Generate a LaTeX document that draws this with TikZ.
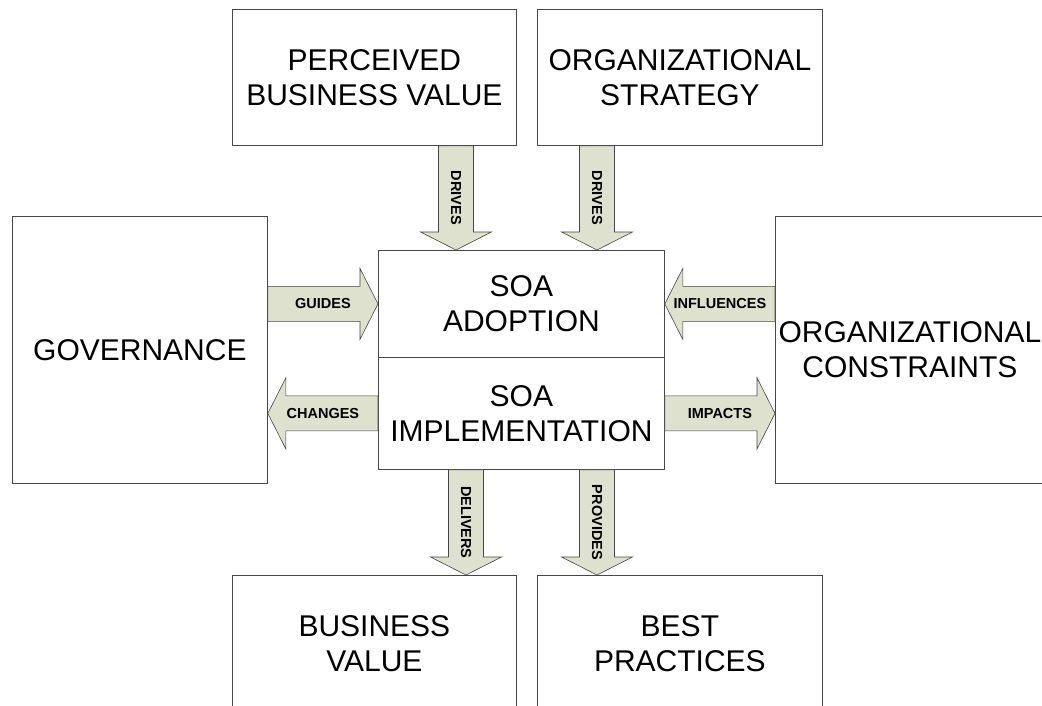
\documentclass[tikz,border=0pt]{standalone}
\usepackage{fontspec}
\setmainfont{Liberation Sans}
\usetikzlibrary{calc}
\definecolor{arrowfill}{RGB}{221,225,205}
\definecolor{edgegray}{RGB}{70,70,70}
\newcommand\blockarrow[4][]{%
  \draw[arrowshape]
    ($(#2)!17.5pt!90:(#3)$) --
    ($($(#3)!18pt!(#2)$)!17.5pt!-90:(#2)$) --
    ($($(#3)!18pt!(#2)$)!35.5pt!-90:(#2)$) --
    (#3) --
    ($($(#3)!18pt!(#2)$)!35.5pt!90:(#2)$) --
    ($($(#3)!18pt!(#2)$)!17.5pt!90:(#2)$) --
    ($(#2)!17.5pt!-90:(#3)$) -- cycle;
  \node[arrowlabel,#1] at ($(#2)!0.5!(#3)$) {#4};}
\begin{document}
\begin{tikzpicture}[x=1pt,y=-1pt,
  box/.style={draw=edgegray,line width=0.8pt,fill=white,anchor=north west,
    align=center,inner sep=0pt,font=\fontsize{30}{35}\selectfont},
  arrowshape/.style={draw=edgegray,line width=0.6pt,fill=arrowfill,line join=miter},
  arrowlabel/.style={font=\fontsize{14.5}{16}\selectfont\bfseries,inner sep=0pt}]
\useasboundingbox (0,0) rectangle (1042,706);
\clip (0,0) rectangle (1042,706);
\fill[white] (0,0) rectangle (1042,706);
\node[box,minimum width=284pt,minimum height=136pt] (pbv) at (232,9) {PERCEIVED\\BUSINESS VALUE};
\node[box,minimum width=285pt,minimum height=136pt] (ost) at (537,9) {ORGANIZATIONAL\\STRATEGY};
\node[box,minimum width=255pt,minimum height=267pt] (gov) at (12,216) {GOVERNANCE};
\node[box,minimum width=286pt,minimum height=107pt] (ad) at (378,250) {SOA\\ADOPTION};
\node[box,minimum width=286pt,minimum height=112pt] (impl) at (378,357) {SOA\\IMPLEMENTATION};
\node[box,minimum width=269pt,minimum height=267pt] (oc) at (775,216) {ORGANIZATIONAL\\CONSTRAINTS};
\node[box,minimum width=284pt,minimum height=136pt] (bv) at (232,575) {BUSINESS\\VALUE};
\node[box,minimum width=285pt,minimum height=136pt] (bp) at (537,575) {BEST\\PRACTICES};
\coordinate (xa) at (456,0);
\coordinate (xb) at (597,0);
\coordinate (xc) at (466,0);
\coordinate (s1) at (pbv.south -| xa); \coordinate (t1) at (ad.north -| xa);
\coordinate (s2) at (ost.south -| xb); \coordinate (t2) at (ad.north -| xb);
\coordinate (s3) at (gov.east |- ad.center); \coordinate (t3) at (ad.west);
\coordinate (s4) at (impl.west); \coordinate (t4) at (gov.east |- impl.center);
\coordinate (s5) at (oc.west |- ad.center); \coordinate (t5) at (ad.east);
\coordinate (s6) at (impl.east); \coordinate (t6) at (oc.west |- impl.center);
\coordinate (s7) at (impl.south -| xc); \coordinate (t7) at (bv.north -| xc);
\coordinate (s8) at (impl.south -| xb); \coordinate (t8) at (bp.north -| xb);
\blockarrow[rotate=-90]{s1}{t1}{DRIVES}
\blockarrow[rotate=-90]{s2}{t2}{DRIVES}
\blockarrow{s3}{t3}{GUIDES}
\blockarrow{s4}{t4}{CHANGES}
\blockarrow{s5}{t5}{INFLUENCES}
\blockarrow{s6}{t6}{IMPACTS}
\blockarrow[rotate=-90]{s7}{t7}{DELIVERS}
\blockarrow[rotate=-90]{s8}{t8}{PROVIDES}
\end{tikzpicture}
\end{document}
